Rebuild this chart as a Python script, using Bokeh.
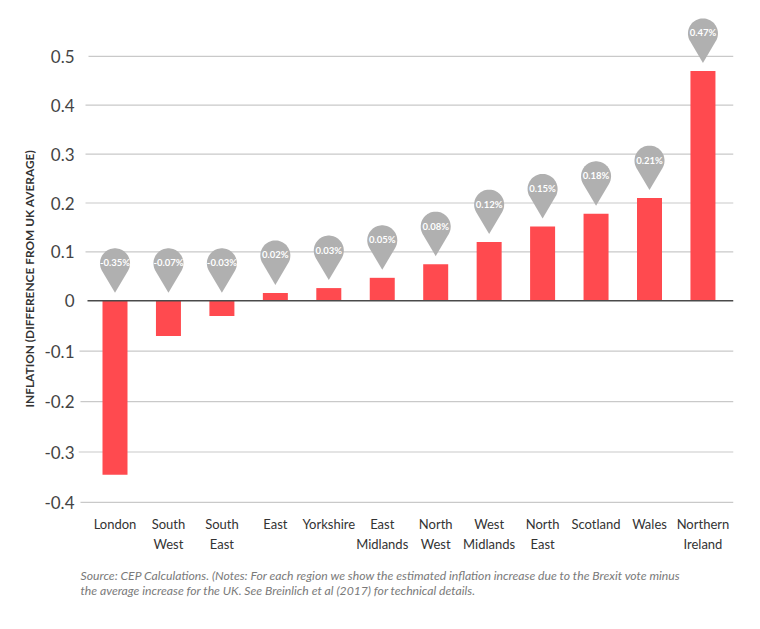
import numpy as np
from bokeh.plotting import figure
from bokeh.models import Range1d, FixedTicker, Title
from bokeh.core.properties import value
from bokeh.embed import file_html
from bokeh.resources import INLINE

regions = ["London", "South\nWest", "South\nEast", "East", "Yorkshire", "East\nMidlands",
           "North\nWest", "West\nMidlands", "North\nEast", "Scotland", "Wales", "Northern\nIreland"]
inflation = [-0.345, -0.07, -0.03, 0.016, 0.026, 0.047, 0.075, 0.12, 0.152, 0.178, 0.21, 0.47]
pin_labels = ["-0.35%", "-0.07%", "-0.03%", "0.02%", "0.03%", "0.05%", "0.08%", "0.12%",
              "0.15%", "0.18%", "0.21%", "0.47%"]
y_ticks = [0.5, 0.4, 0.3, 0.2, 0.1, 0, -0.1, -0.2, -0.3, -0.4]
y_tick_labels = ["0.5", "0.4", "0.3", "0.2", "0.1", "0", "-0.1", "-0.2", "-0.3", "-0.4"]
y_title = "INFLATION (DIFFERENCE FROM UK AVERAGE)"
source_note = ("Source: CEP Calculations. (Notes: For each region we show the estimated inflation increase due to the Brexit vote minus\n"
               "the average increase for the UK. See Breinlich et al (2017) for technical details.")

# layout (page pixels; the figure sits at the page origin)
FIG_W, FIG_H = 750, 610
F_L, F_R, F_T, F_B = 78, 733, 10, 512
X0, DX = 114.5, 53.45                     # first bar centre, bar spacing
Y0, PX_POS, PX_NEG = 300.3, 489.0, 504.0  # zero line, px per unit above / below zero
grid_left = [88, 85, 85, 85, 85, 87, 79, 80, 78, 80]

def yp(v):
    """The source chart's axis is slightly wider below zero than above it."""
    v = np.asarray(v, dtype=float)
    return np.where(v >= 0, v, v * PX_NEG / PX_POS)

def xd(px):
    return (np.asarray(px, dtype=float) - X0) / DX

p = figure(width=FIG_W, height=FIG_H, output_backend="svg", toolbar_location=None,
           x_range=Range1d(float(xd(F_L)), float(xd(F_R))),
           y_range=Range1d((Y0 - F_B) / PX_POS, (Y0 - F_T) / PX_POS),
           min_border_left=F_L, min_border_right=FIG_W - F_R,
           min_border_top=F_T, min_border_bottom=FIG_H - F_B)
p.outline_line_color = None
p.background_fill_color = None
p.xgrid.visible = False
p.ygrid.visible = False

xs = np.arange(len(regions), dtype=float)
ys = yp(inflation)

tick_y = yp(y_ticks)
nonzero = [i for i, t in enumerate(y_ticks) if t != 0]
p.segment(x0=xd(grid_left)[nonzero], x1=[float(xd(F_R))] * len(nonzero),
          y0=tick_y[nonzero], y1=tick_y[nonzero], line_color="#c9c9c9", line_width=1.2)

p.vbar(x=xs, top=ys, bottom=0, width=25 / DX, fill_color="#ff4a4f", line_color=None)

zi = y_ticks.index(0)
p.segment(x0=[float(xd(grid_left[zi]))], x1=[float(xd(F_R))], y0=[0], y1=[0],
          line_color="#4a4a4a", line_width=1.5)

R, H, GAP = 15.0, 29.5, 8.0
beta = np.arccos(R / H)
ang = np.linspace(-np.pi + beta, np.pi - beta, 48)
outline_x = np.concatenate([[0], R * np.sin(ang), [0]])
outline_y = np.concatenate([[0], H + R * np.cos(ang), [0]])
tips = np.maximum(ys, 0) + GAP / PX_POS
p.patches(xs=[list(x + outline_x / DX) for x in xs],
          ys=[list(t + outline_y / PX_POS) for t in tips],
          fill_color="#b0b0b0", line_color=None)
p.text(x=xs, y=tips + (H + 0.5) / PX_POS, text=pin_labels, text_color="white",
       text_font=value("Lato"), text_font_style="bold", text_font_size="9.5px",
       text_align="center", text_baseline="middle")

p.yaxis.ticker = FixedTicker(ticks=[float(t) for t in tick_y])
p.yaxis.major_label_overrides = {float(t): s for t, s in zip(tick_y, y_tick_labels)}
p.yaxis.axis_line_color = None
p.yaxis.major_tick_line_color = None
p.yaxis.minor_tick_line_color = None
p.yaxis.major_tick_in = 0
p.yaxis.major_tick_out = 0
p.yaxis.major_label_standoff = 4
p.yaxis.major_label_text_font = "Lato"
p.yaxis.major_label_text_font_size = "17px"
p.yaxis.major_label_text_color = "#444444"

p.xaxis.ticker = FixedTicker(ticks=[float(x) for x in xs])
p.xaxis.major_label_overrides = {float(x): s for x, s in zip(xs, regions)}
p.xaxis.axis_line_color = None
p.xaxis.major_tick_line_color = None
p.xaxis.minor_tick_line_color = None
p.xaxis.major_tick_in = 0
p.xaxis.major_tick_out = 0
p.xaxis.major_label_standoff = 3
p.xaxis.major_label_text_font = "Lato"
p.xaxis.major_label_text_font_size = "13px"
p.xaxis.major_label_text_color = "#333333"
p.xaxis.major_label_text_line_height = 1.25

p.add_layout(Title(text=y_title, align="left", offset=105, standoff=10,
                   text_font="Lato", text_font_style="bold", text_font_size="11.9px",
                   text_color="#333333"), "left")
p.add_layout(Title(text=source_note, align="left", offset=2, standoff=23,
                   text_font="Lato", text_font_style="italic", text_font_size="12.2px",
                   text_line_height=1.0, text_color="#7a7a7a"), "below")

open("out.html", "w").write(file_html(p, INLINE))
